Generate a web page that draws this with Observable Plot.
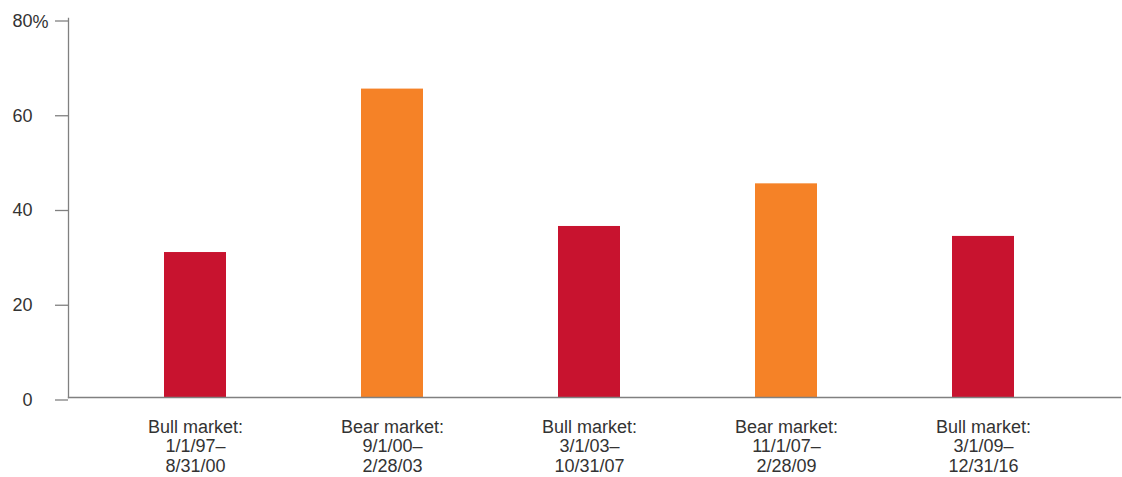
<!DOCTYPE html>
<html>
<head>
<meta charset="utf-8">
<script src="https://cdn.jsdelivr.net/npm/d3@7"></script>
<script src="https://cdn.jsdelivr.net/npm/@observablehq/plot@0.6"></script>
<style>
  html, body { margin: 0; padding: 0; background: #fff; }
  #chart svg { display: block; }
</style>
</head>
<body>
<div id="chart"></div>
<script>
const periods = [
  "Bull market:\n1/1/97–\n8/31/00",
  "Bear market:\n9/1/00–\n2/28/03",
  "Bull market:\n3/1/03–\n10/31/07",
  "Bear market:\n11/1/07–\n2/28/09",
  "Bull market:\n3/1/09–\n12/31/16"
];
const marketType = ["Bull", "Bear", "Bull", "Bear", "Bull"];
const values = [30.6, 65.1, 36.1, 45.1, 34.0];
const yTicks = [0, 20, 40, 60, 80];

const data = periods.map((p, i) => ({period: p, type: marketType[i], value: values[i]}));

const font = "Liberation Sans, Arial, sans-serif";
const textColor = "#333";
const axisColor = "#808080";

const chart = Plot.plot({
  width: 1122,
  height: 477,
  marginLeft: 68,
  marginRight: 2,
  marginTop: 18,
  marginBottom: 80,
  style: {fontFamily: font, fontSize: "18px", color: textColor, background: "#fff"},
  x: {domain: periods, paddingInner: 0.686, paddingOuter: 0.506, align: 0.475, axis: null, label: null},
  y: {domain: [0, 80], axis: null, label: null},
  color: {domain: ["Bull", "Bear"], range: ["#C8132F", "#F58227"]},
  marks: [
    Plot.barY(data, {x: "period", y: "value", fill: "type"}),
    Plot.frame({anchor: "left", stroke: axisColor, strokeWidth: 1.3}),
    Plot.frame({anchor: "bottom", stroke: axisColor, strokeWidth: 1.3}),
    Plot.axisY({ticks: yTicks, label: null, tickSize: 13, tickPadding: 23, tickFormat: d => String(d),
      stroke: axisColor, strokeWidth: 1.3, fill: textColor, fontSize: 18, dy: 2.5}),
    Plot.text(["%"], {y: [80], frameAnchor: "left", textAnchor: "start", dx: -36, dy: 3.5,
      fill: textColor, fontSize: 18}),
    Plot.text(data, {x: "period", y: () => 0, text: "period", lineAnchor: "top", dy: 21,
      lineHeight: 1.1, fill: textColor, fontSize: 18})
  ]
});
document.getElementById("chart").appendChild(chart);
</script>
</body>
</html>
